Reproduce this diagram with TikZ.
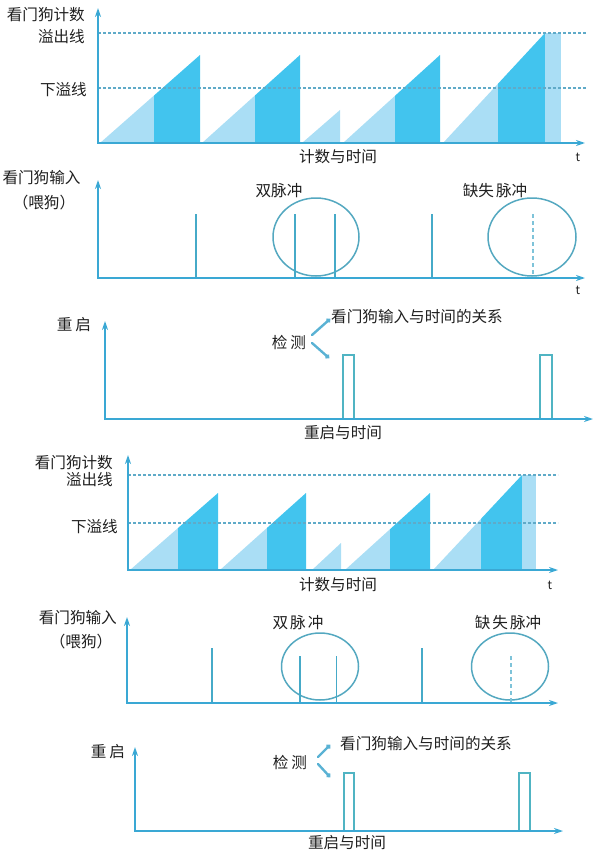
\documentclass[tikz,border=0pt]{standalone}
\usepackage{fontspec}
\newfontfamily\cjk{Noto Sans CJK SC}
\usetikzlibrary{arrows.meta}
\definecolor{axisc}{RGB}{58,168,212}
\definecolor{lightf}{RGB}{170,222,245}
\definecolor{darkf}{RGB}{66,196,238}
\definecolor{circc}{RGB}{84,168,192}
\definecolor{dotc}{RGB}{95,170,200}
\definecolor{rectc}{RGB}{80,180,195}
\definecolor{pulsec}{RGB}{70,170,200}
\definecolor{detc}{RGB}{90,178,212}
\begin{document}
\begin{tikzpicture}[x=1pt,y=-1pt,
  lbl/.style={font=\cjk\fontsize{15.6}{15.6}\selectfont, inner sep=0pt, text=black!88},
  tlbl/.style={font=\cjk\fontsize{12}{12}\selectfont, inner sep=0pt, text=black!88},
  axes/.style={draw=axisc, line width=2pt, {Stealth[length=9pt,width=6pt]}-{Stealth[length=9pt,width=6pt]}},
  lightfill/.style={fill=lightf, draw=none},
  darkfill/.style={fill=darkf, draw=none},
  dotline/.style={draw=dotc, line width=1.2pt, dash pattern=on 2.5pt off 2.5pt},
  pulse/.style={draw=pulsec, line width=1.6pt},
  mpulse/.style={draw=pulsec!70, line width=1.4pt, dash pattern=on 4pt off 3pt},
  ring/.style={draw=circc, line width=1.5pt},
  rbox/.style={draw=rectc, line width=1.6pt},
  det/.style={draw=detc, line width=2.4pt, line cap=round, -{Circle[length=4.5pt]}}
]
\useasboundingbox (0,0) rectangle (601,856);

% ================= TOP: panel 1 (count) =================
\fill[lightfill] (100,143) -- (154,95.5) -- (154,143) -- cycle;
\fill[darkfill] (154,143) -- (154,95.5) -- (200,55) -- (200,143) -- cycle;
\fill[lightfill] (202,143) -- (255,95.4) -- (255,143) -- cycle;
\fill[darkfill] (255,143) -- (255,95.4) -- (300,55) -- (300,143) -- cycle;
\fill[lightfill] (302,143) -- (340,110) -- (340,143) -- cycle;
\fill[lightfill] (343,143) -- (395,95.8) -- (395,143) -- cycle;
\fill[darkfill] (395,143) -- (395,95.8) -- (440,55) -- (440,143) -- cycle;
\fill[lightfill] (443,143) -- (498,83.7) -- (498,143) -- cycle;
\fill[darkfill] (498,143) -- (498,83.7) -- (545,33) -- (545,143) -- cycle;
\fill[lightfill] (545,33) rectangle (561,143);
\draw[dotline] (98,33) -- (587,33);
\draw[dotline] (98,88) -- (587,88);
\draw[axes] (98,8) -- (98,143) -- (585,143);
\node[lbl, anchor=east] (cnt1) at (85,15) {看门狗计数};
\node[lbl, anchor=east] (ovf1) at (85,37) {溢出线};
\node[lbl, anchor=east] (udf1) at (87,90) {下溢线};
\node[lbl] (ct1) at (338,157) {计数与时间};
\node[tlbl] (t1) at (578,157) {t};

% ================= TOP: panel 2 (input) =================
\draw[ring] (316,237) ellipse [x radius=43, y radius=39];
\draw[ring] (532,237) ellipse [x radius=44, y radius=39];
\draw[pulse] (196,214) -- (196,278);
\draw[pulse] (295,214) -- (295,278);
\draw[pulse] (335,214) -- (335,278);
\draw[pulse] (432,214) -- (432,278);
\draw[mpulse] (533,214) -- (533,278);
\draw[axes] (98,180) -- (98,278) -- (585,278);
\node[lbl] (in1) at (41.5,178) {看门狗输入};
\node[lbl] (feed1) at (44,203) {（喂狗）};
\node[lbl] (dbl1) at (279,191) {双脉冲};
\node[lbl] (mis1) at (495,191) {缺失\hspace{2pt}脉冲};
\node[tlbl] (t2) at (578,290) {t};

% ================= TOP: panel 3 (restart) =================
\draw[rbox] (343,355) rectangle (354,419);
\draw[rbox] (540,355) rectangle (552,419);
\draw[axes] (105,321) -- (105,419) -- (593,419);
\node[lbl] (rs1) at (74,325) {重\hspace{3pt}启};
\node[lbl] (dt1) at (289,343) {检\hspace{3pt}测};
\node[lbl, anchor=west] (rel1) at (331,317) {看门狗输入与时间的关系};
\node[lbl] (rt1) at (343,433) {重启与时间};
\coordinate (d1a) at (312,335);
\coordinate (d1b) at (312,343);
\draw[det] (d1a) -- (330,319);
\draw[det] (d1b) -- (329,358);

% ================= BOTTOM: panel 1 (count) =================
\fill[lightfill] (130,570) -- (178,528) -- (178,570) -- cycle;
\fill[darkfill] (178,570) -- (178,528) -- (218,493) -- (218,570) -- cycle;
\fill[lightfill] (220,570) -- (267,527.9) -- (267,570) -- cycle;
\fill[darkfill] (267,570) -- (267,527.9) -- (306,493) -- (306,570) -- cycle;
\fill[lightfill] (312,570) -- (341,543) -- (341,570) -- cycle;
\fill[lightfill] (345,570) -- (390,529.2) -- (390,570) -- cycle;
\fill[darkfill] (390,570) -- (390,529.2) -- (430,493) -- (430,570) -- cycle;
\fill[lightfill] (433,570) -- (481,518.8) -- (481,570) -- cycle;
\fill[darkfill] (481,570) -- (481,518.8) -- (522,475) -- (522,570) -- cycle;
\fill[lightfill] (522,475) rectangle (536,570);
\draw[dotline] (128,475) -- (558,475);
\draw[dotline] (128,523) -- (558,523);
\draw[axes] (128,455) -- (128,570) -- (558,570);
\node[lbl, anchor=east] (cnt2) at (113,463) {看门狗计数};
\node[lbl, anchor=east] (ovf2) at (113,480) {溢出线};
\node[lbl, anchor=east] (udf2) at (118,527) {下溢线};
\node[lbl] (ct2) at (338,585) {计数与时间};
\node[tlbl] (t3) at (550,585) {t};

% ================= BOTTOM: panel 2 (input) =================
\draw[ring] (320,666.5) ellipse [x radius=38.5, y radius=33.5];
\draw[ring] (510,666.5) ellipse [x radius=38.5, y radius=33.5];
\draw[pulse] (212,648) -- (212,703);
\draw[pulse] (300,656) -- (300,703);
\draw[pulse] (336.5,656) -- (336.5,703);
\draw[pulse] (422,648) -- (422,703);
\draw[mpulse] (511,656) -- (511,703);
\draw[axes] (127,617) -- (127,703) -- (558,703);
\node[lbl, anchor=east] (in2) at (117,618) {看门狗输入};
\node[lbl] (feed2) at (81,642) {（喂狗）};
\node[lbl] (dbl2) at (298,623) {双\hspace{2pt}脉\hspace{2pt}冲};
\node[lbl] (mis2) at (508,623) {缺\hspace{2pt}失\hspace{2pt}脉冲};

% ================= BOTTOM: panel 3 (restart) =================
\draw[rbox] (344,773) rectangle (354,831);
\draw[rbox] (519,773) rectangle (530,831);
\draw[axes] (135,747) -- (135,831) -- (563,831);
\node[lbl] (rs2) at (108,752) {重\hspace{3pt}启};
\node[lbl] (dt2) at (290,763) {检\hspace{3pt}测};
\node[lbl, anchor=west] (rel2) at (340,744) {看门狗输入与时间的关系};
\node[lbl] (rt2) at (347,843) {重启与时间};
\coordinate (d2a) at (318,757);
\coordinate (d2b) at (318,764);
\draw[det] (d2a) -- (330,745);
\draw[det] (d2b) -- (330,777);
\end{tikzpicture}
\end{document}
